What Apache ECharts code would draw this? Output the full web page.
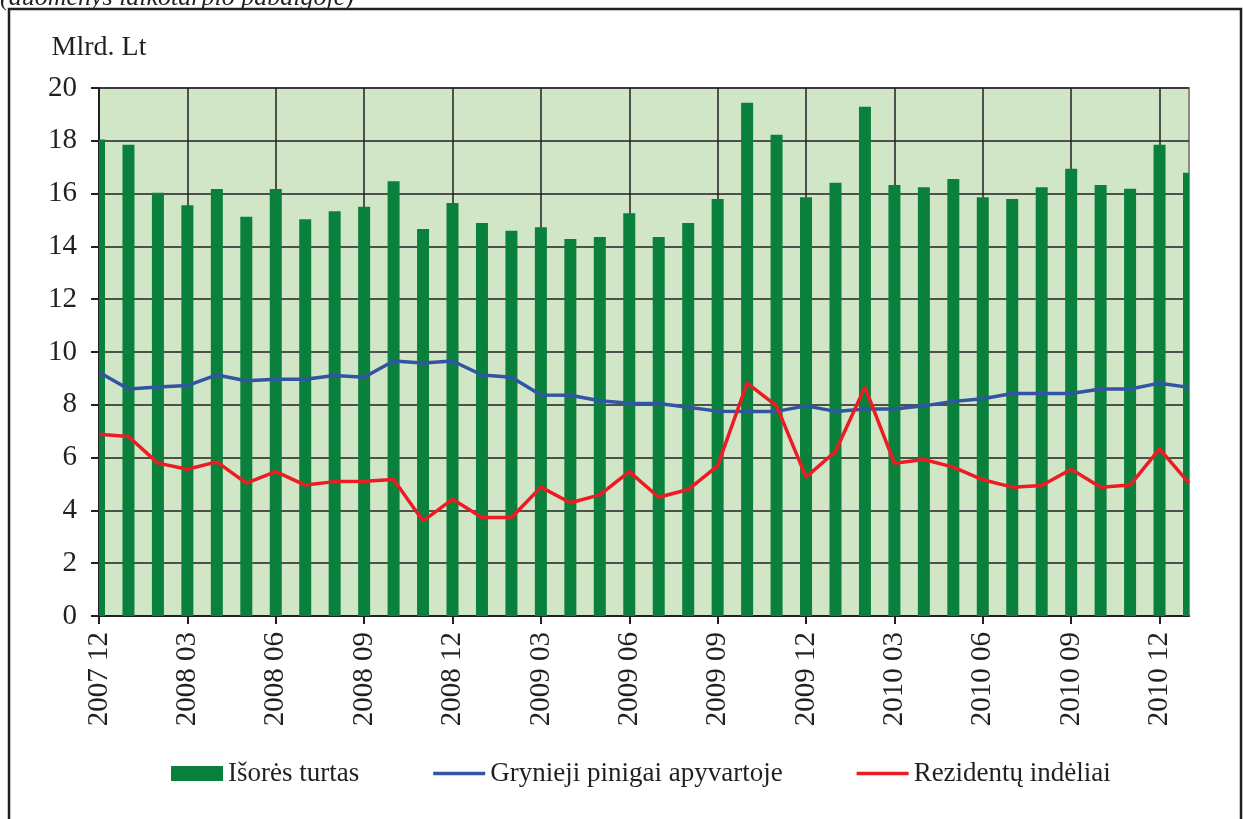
<!DOCTYPE html>
<html>
<head>
<meta charset="utf-8">
<script src="https://cdn.jsdelivr.net/npm/echarts@6/dist/echarts.min.js"></script>
<style>
html,body{margin:0;padding:0;background:#fff;}
#chart{width:1243px;height:819px;}
</style>
</head>
<body>
<div id="chart"></div>
<script>
var categories = ["2007 12","2008 01","2008 02","2008 03","2008 04","2008 05","2008 06","2008 07","2008 08","2008 09","2008 10","2008 11","2008 12",
  "2009 01","2009 02","2009 03","2009 04","2009 05","2009 06","2009 07","2009 08","2009 09","2009 10","2009 11","2009 12",
  "2010 01","2010 02","2010 03","2010 04","2010 05","2010 06","2010 07","2010 08","2010 09","2010 10","2010 11","2010 12","2011 01"];
var isoresTurtas = [18.05,17.85,16.03,15.56,16.17,15.12,16.17,15.03,15.33,15.50,16.47,14.66,15.64,
  14.89,14.59,14.73,14.28,14.36,15.26,14.36,14.89,15.80,19.44,18.23,15.86,
  16.41,19.29,16.33,16.24,16.55,15.86,15.80,16.24,16.94,16.33,16.18,17.85,16.79];
var grynieji = [9.23,8.60,8.67,8.73,9.13,8.91,8.97,8.97,9.11,9.04,9.66,9.58,9.66,
  9.13,9.04,8.37,8.36,8.15,8.06,8.05,7.91,7.76,7.75,7.75,7.96,
  7.75,7.84,7.84,7.96,8.13,8.23,8.43,8.43,8.43,8.60,8.60,8.82,8.66];
var rezidentu = [6.88,6.80,5.79,5.56,5.84,5.03,5.47,4.96,5.09,5.10,5.17,3.60,4.42,
  3.73,3.73,4.88,4.29,4.59,5.47,4.50,4.79,5.69,8.82,7.96,5.26,
  6.23,8.67,5.79,5.93,5.64,5.16,4.88,4.94,5.56,4.88,4.96,6.33,5.03];
var seriesNames = ["Išorės turtas","Grynieji pinigai apyvartoje","Rezidentų indėliai"];
var yAxisName = "Mlrd. Lt";
var subtitle = "(duomenys laikotarpio pabaigoje)";

var FONT = "'Liberation Serif','Times New Roman',serif";
var BAR_W = 12;

function renderBar(params, api) {
  var top = api.coord([api.value(0), api.value(1)]);
  var base = api.coord([api.value(0), 0]);
  var cs = params.coordSys;
  var rect = {x: top[0] - BAR_W / 2, y: top[1], width: BAR_W, height: base[1] - top[1]};
  var clipped = echarts.graphic.clipRectByRect(rect, {x: cs.x, y: cs.y, width: cs.width, height: cs.height});
  if (!clipped) return null;
  return {type: 'rect', shape: clipped, style: api.style()};
}

var chart = echarts.init(document.getElementById('chart'), null, {renderer:'canvas'});
chart.setOption({
  animation:false,
  backgroundColor:'#ffffff',
  textStyle:{fontFamily:FONT},
  graphic:[
    {type:'rect', shape:{x:9,y:9,width:1232,height:830}, style:{fill:'none',stroke:'#231f20',lineWidth:2.5}, z:100},
    {type:'text', x:0, y:11, style:{text:subtitle, font:"italic 26px "+FONT, fill:'#231f20', verticalAlign:'bottom'}}
  ],
  grid:{left:99, top:88, width:1090, height:528, show:true, backgroundColor:'#d0e6c7', borderColor:'#8c8c8c', borderWidth:2},
  legend:{
    left:166, top:755, itemWidth:52, itemHeight:15, itemGap:74,
    textStyle:{fontFamily:FONT, fontSize:27, color:'#231f20'},
    data:[
      {name:seriesNames[0], icon:'rect'},
      {name:seriesNames[1], icon:'path://M0,0H52V3.5H0Z'},
      {name:seriesNames[2], icon:'path://M0,0H52V3.5H0Z'}
    ]
  },
  xAxis:{
    type:'category', data:categories, boundaryGap:false,
    axisLine:{show:true, lineStyle:{color:'#231f20', width:2}},
    axisTick:{show:true, interval:2, length:8, lineStyle:{color:'#231f20', width:2}},
    axisLabel:{interval:2, rotate:90, margin:16, fontFamily:FONT, fontSize:29, color:'#231f20'},
    splitLine:{show:true, interval:2, lineStyle:{color:'#231f20', width:1.5}}
  },
  yAxis:{
    type:'value', min:0, max:20, interval:2,
    name:yAxisName, nameLocation:'end', nameGap:40,
    nameTextStyle:{fontFamily:FONT, fontSize:28, color:'#231f20', align:'center', verticalAlign:'middle'},
    axisLine:{show:true, lineStyle:{color:'#231f20', width:2}},
    axisTick:{show:true, length:8, lineStyle:{color:'#231f20', width:2}},
    axisLabel:{margin:22, fontFamily:FONT, fontSize:29, color:'#231f20'},
    splitLine:{show:true, lineStyle:{color:'#231f20', width:1.5}}
  },
  series:[
    {name:seriesNames[0], type:'custom', renderItem:renderBar,
     data:isoresTurtas.map(function(v,i){return [i,v];}),
     encode:{x:0, y:1}, itemStyle:{color:'#0a803d'}, z:2},
    {name:seriesNames[1], type:'line', data:grynieji, symbol:'none', z:3,
     lineStyle:{color:'#3154a3', width:3.5}, itemStyle:{color:'#3154a3'}},
    {name:seriesNames[2], type:'line', data:rezidentu, symbol:'none', z:3,
     lineStyle:{color:'#ed1c24', width:3.5}, itemStyle:{color:'#ed1c24'}}
  ]
});
</script>
</body>
</html>
